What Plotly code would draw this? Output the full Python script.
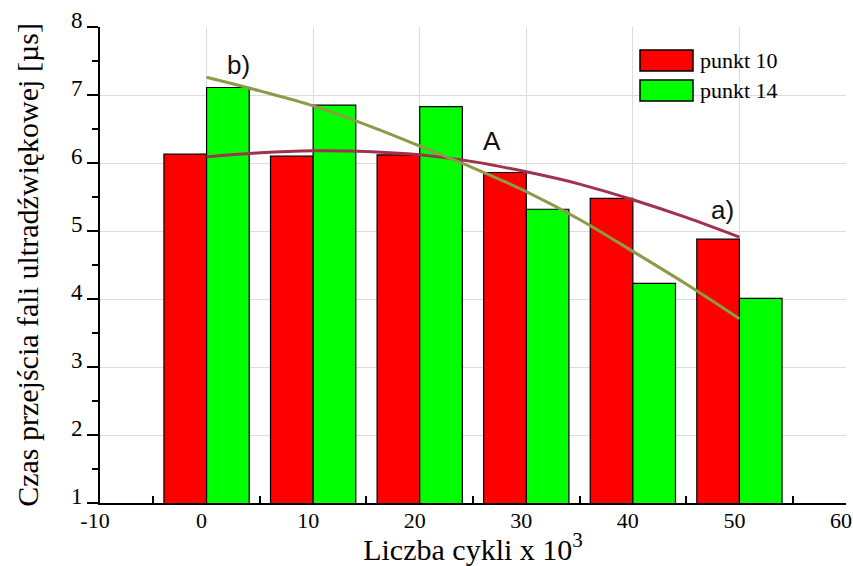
import plotly.graph_objects as go

# Data
cycles = [0, 10, 20, 30, 40, 50]          # x 10^3 cycles
punkt10 = [6.13, 6.10, 6.12, 5.86, 5.48, 4.88]
punkt14 = [7.11, 6.85, 6.83, 5.32, 4.23, 4.01]

fit_x = [0, 5, 10, 15, 20, 25, 30, 35, 40, 45, 50]
fit_a = [6.09, 6.15, 6.18, 6.17, 6.12, 6.02, 5.87, 5.69, 5.46, 5.20, 4.91]
fit_b = [7.26, 7.06, 6.84, 6.56, 6.25, 5.93, 5.58, 5.17, 4.70, 4.22, 3.71]

x_ticks = [-10, 0, 10, 20, 30, 40, 50, 60]
y_ticks = [1, 2, 3, 4, 5, 6, 7, 8]

RED = "#ff0000"
GREEN = "#00ff00"
MAROON = "#a0324e"
OLIVE = "#8e9a48"
SERIF = "Liberation Serif, Times New Roman, serif"
SANS = "Liberation Sans, Arial, sans-serif"

W, H = 853, 566
L, R, T, B = 100, 7, 27, 63
PW, PH = W - L - R, H - T - B

fig = go.Figure()
fig.add_trace(go.Bar(x=cycles, y=punkt10, name="punkt 10",
                     marker=dict(color=RED, line=dict(color="black", width=1.2)),
                     showlegend=False))
fig.add_trace(go.Bar(x=cycles, y=punkt14, name="punkt 14",
                     marker=dict(color=GREEN, line=dict(color="black", width=1.2)),
                     showlegend=False))
fig.add_trace(go.Scatter(x=fit_x, y=fit_a, mode="lines", line=dict(color=MAROON, width=3, shape="spline"),
                         showlegend=False, name="a)"))
fig.add_trace(go.Scatter(x=fit_x, y=fit_b, mode="lines", line=dict(color=OLIVE, width=3, shape="spline"),
                         showlegend=False, name="b)"))

# custom legend (wide swatches as in the reference); positions in page pixels
legend_items = [("punkt 10", RED), ("punkt 14", GREEN)]
for i, (label, col) in enumerate(legend_items):
    top = 50 + 30 * i
    fig.add_shape(type="rect", xref="paper", yref="paper",
                  x0=(640 - L) / PW, x1=(693 - L) / PW,
                  y0=1 - (top + 21 - T) / PH, y1=1 - (top - T) / PH,
                  fillcolor=col, line=dict(color="black", width=1.5))
    fig.add_annotation(xref="paper", yref="paper", x=(698 - L) / PW, y=1 - (top + 11 - T) / PH,
                       text=label, showarrow=False, xanchor="left", yanchor="middle",
                       font=dict(family=SERIF, size=22, color="black"))

for txt, xx, yy in [("b)", 2.95, 7.44), ("A", 26.8, 6.32), ("a)", 48.4, 5.31)]:
    fig.add_annotation(x=xx, y=yy, text=txt, showarrow=False,
                       font=dict(family=SANS, size=26, color="#111111"))

fig.update_layout(
    width=W, height=H,
    margin=dict(l=L, r=R, t=T, b=B),
    paper_bgcolor="white", plot_bgcolor="white",
    barmode="group", bargap=0.2, bargroupgap=0,
    font=dict(family=SERIF, color="black"),
    xaxis=dict(range=[-10, 60], tickvals=x_ticks, ticktext=[str(v) for v in x_ticks],
               ticks="", showgrid=True, gridcolor="#dcdcdc", gridwidth=1,
               showline=True, linecolor="black", linewidth=2, zeroline=False,
               automargin=False, ticklabelshift=-5, ticklabelstandoff=-3,
               tickfont=dict(family=SERIF, size=22),
               minor=dict(tick0=-5, dtick=10, ticks="inside", ticklen=7,
                          tickcolor="black", tickwidth=2, showgrid=False),
               title=dict(text="Liczba cykli x 10<sup>3</sup>", font=dict(family=SERIF, size=30),
                          standoff=10)),
    yaxis=dict(range=[1, 8], tickvals=y_ticks, ticks="outside", ticklen=11, tickwidth=2,
               tickcolor="black", showgrid=True, gridcolor="#dcdcdc", gridwidth=1,
               showline=True, linecolor="black", linewidth=2, zeroline=False,
               automargin=False, ticklabelshift=-7, ticklabelstandoff=0,
               tickfont=dict(family=SERIF, size=23),
               minor=dict(dtick=0.5, ticks="outside", ticklen=6, tickwidth=2,
                          tickcolor="black", showgrid=False),
               title=dict(text="Czas przejścia fali ultradźwiękowej [µs]",
                          font=dict(family=SERIF, size=30), standoff=23)),
)

fig.write_html(
    "out.html",
    config={"displayModeBar": False},
    post_script=("document.body.style.margin='0';"
                 "document.body.style.overflow='hidden';"
                 "document.documentElement.style.overflow='hidden';"),
)
